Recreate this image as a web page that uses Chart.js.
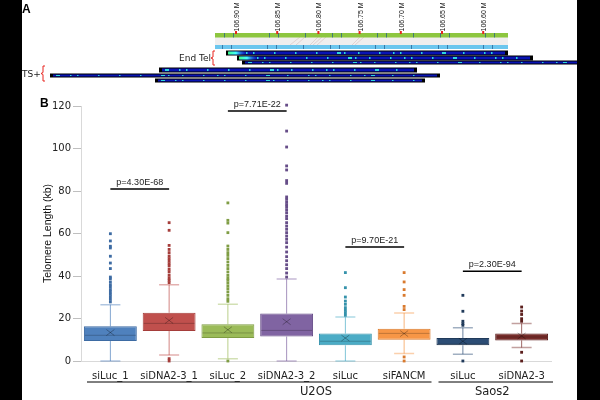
<html>
<head>
<meta charset="utf-8" />
<title>Telomere length box plot</title>
<script src="https://cdn.jsdelivr.net/npm/chart.js@4.4.1/dist/chart.umd.min.js"></script>
<style>
  html, body { margin: 0; padding: 0; background: #000; }
  #wrap { width: 600px; height: 400px; }
</style>
</head>
<body>
<div id="wrap"><canvas id="chart" width="600" height="400"></canvas></div>
<script>
// ---- data (values in kb) ----
const categories = ['siLuc_1', 'siDNA2-3_1', 'siLuc_2', 'siDNA2-3_2', 'siLuc', 'siFANCM', 'siLuc', 'siDNA2-3'];
const cellLines = ['U2OS', 'Saos2'];
const cellLineSpan = [[0, 5], [6, 7]];
const whiskerLow = [0, 2.8, 1.1, 0, 0, 3.5, 3.2, 6.3];
const q1 = [9.4, 14.1, 10.8, 11.5, 7.4, 10.0, 7.4, 9.7];
const median = [12.1, 17.7, 13.2, 14.4, 9.3, 13.0, 7.9, 11.3];
const q3 = [16.3, 22.7, 17.3, 22.3, 12.9, 15.2, 10.8, 12.9];
const mean = [13.4, 19.1, 14.7, 18.5, 10.8, 12.9, 9.3, 11.8];
const whiskerHigh = [26.5, 35.9, 26.7, 38.6, 20.7, 22.6, 15.7, 17.7];
const outliers = [
  [27.8, 29, 30.3, 31.4, 32.5, 33.6, 34.8, 35.9, 37.2, 38.7, 39.5, 43.5, 46.1, 49.3, 53.2, 54, 56.5, 59.9],
  [0, 1.1, 36.9, 38, 39, 40.3, 41.9, 43.1, 44.7, 45.8, 47, 48.2, 49.4, 51, 52.5, 54.4, 61.5, 65.1],
  [0, 28.1, 29.3, 30.9, 32.5, 34, 35.3, 36.7, 38, 39, 40.3, 41.9, 43.5, 45, 46.6, 48.2, 49.7, 51, 52.5, 54.1, 60.4, 64.9, 66.2, 74.4],
  [39.5, 41.4, 43.5, 45.3, 47.2, 49.1, 51.3, 53.6, 55.7, 57.3, 58.8, 60.4, 62, 63.5, 65.1, 67, 68.2, 69.8, 71.2, 72.5, 73.6, 74.8, 76.1, 77.2, 83.6, 84.9, 89.9, 91.8, 100.7, 108.2, 120.4],
  [21.5, 22.7, 23.8, 25.1, 26.7, 28.2, 30.1, 34.5, 41.6],
  [0, 1.9, 24.2, 25.7, 30.9, 33.6, 37.2, 41.6],
  [0, 16.8, 17.6, 18.7, 23.4, 30.9],
  [0, 4.1, 18.7, 19.9, 21.9, 23.5, 25.4]
];
const pTexts = ['p=4.30E-68', 'p=7.71E-22', 'p=9.70E-21', 'p=2.30E-94'];
const pPairs = [[0, 1], [2, 3], [4, 5], [6, 7]];
const pLevels = [81, 117.6, 53.6, 42.2];
const yMin = 0, yMax = 120, yStep = 20;

// panel A coordinate labels
const coordLabels = ['106.90 M', '106.85 M', '106.80 M', '106.75 M', '106.70 M', '106.65 M', '106.60 M'];

const fills = ['#4f81bd', '#c0504d', '#9bbb59', '#8064a2', '#4bacc6', '#f79646', '#2c4d75', '#772c2a'];
const borders = ['#3d6ba3', '#a53d3a', '#7f9d44', '#664d88', '#3592ab', '#d97a2e', '#203a5a', '#5c1f1d'];

function rgba(hex, a) {
  const n = parseInt(hex.slice(1), 16);
  return 'rgba(' + (n >> 16) + ',' + ((n >> 8) & 255) + ',' + (n & 255) + ',' + a + ')';
}

const outlierPoints = [];
outliers.forEach((list, i) => list.forEach(v => outlierPoints.push({x: i, y: v})));

// rough sketch of the genome track image in panel A
function drawTrack(c, x0, x1, y, h, glow) {
  c.fillStyle = '#000';
  c.fillRect(x0, y - 0.5, x1 - x0, h + 1);
  c.fillStyle = '#0a14b4';
  c.fillRect(x0 + 3, y + 0.5, x1 - x0 - 6, h - 1);
  c.fillStyle = '#2bd6e0';
  for (let x = x0 + 6, k = 0; x < x1 - 6; x += 7, k++) {
    if (k % 3 === 0 || k % 7 === 2) c.fillRect(x, y + 1, k % 5 === 0 ? 4 : 1.5, h - 2);
  }
  if (glow) {
    const g = c.createLinearGradient(x0, 0, x0 + 20, 0);
    g.addColorStop(0, '#3bff6a');
    g.addColorStop(0.5, '#44ffff');
    g.addColorStop(1, 'rgba(40,120,255,0)');
    c.fillStyle = g;
    c.fillRect(x0 + 2, y + 0.5, 20, h - 1);
  }
}

function bracket(c, x, y0, y1) {
  c.strokeStyle = '#e8251f';
  c.lineWidth = 1;
  c.beginPath();
  c.moveTo(x + 3, y0);
  c.lineTo(x + 1, y0);
  c.lineTo(x + 1, (y0 + y1) / 2 - 1);
  c.lineTo(x - 1, (y0 + y1) / 2);
  c.lineTo(x + 1, (y0 + y1) / 2 + 1);
  c.lineTo(x + 1, y1);
  c.lineTo(x + 3, y1);
  c.stroke();
}

const panelA = {
  id: 'panelA',
  beforeDraw(chart) {
    const c = chart.ctx;
    c.save();
    c.fillStyle = '#fff';
    c.fillRect(0, 0, 600, 400);

    c.fillStyle = '#000';
    c.font = 'bold 12px "Liberation Sans"';
    c.fillText('A', 22, 13);
    c.fillText('B', 40, 107);

    // coordinate ruler
    c.font = '7px "Liberation Sans"';
    coordLabels.forEach((t, i) => {
      const x = 236 + i * 41.2;
      c.save();
      c.translate(x + 3, 31.5);
      c.rotate(-Math.PI / 2);
      c.fillStyle = '#111';
      c.fillText(t, 0, 0);
      c.restore();
    });
    c.fillStyle = '#f0eeee';
    c.fillRect(215, 37, 293, 8);
    c.strokeStyle = 'rgba(200,160,160,0.6)';
    c.lineWidth = 0.6;
    [[290, 300], [296, 305], [310, 318], [313, 322], [317, 326], [352, 360], [355, 364]].forEach(p => {
      c.beginPath(); c.moveTo(p[1], 37); c.lineTo(p[0], 45); c.stroke();
    });
    c.fillStyle = '#8dc63f';
    c.fillRect(215, 33, 293, 4.5);
    c.fillStyle = '#6bc6ee';
    c.fillRect(215, 45, 293, 4);
    c.fillStyle = 'rgba(30,90,140,0.7)';
    for (let x = 222, k = 0; x < 505; x += 9, k++) {
      if (k % 4 === 1 || k % 6 === 0) { c.fillRect(x, 45, 1, 4); c.fillRect(x + 2, 33, 1, 4.5); }
    }
    c.fillStyle = '#e8251f';
    coordLabels.forEach((t, i) => c.fillRect(236 + i * 41.2 - 1, 31, 2, 3));

    drawTrack(c, 226, 508, 51, 4, true);
    drawTrack(c, 237, 533, 56, 4, true);
    drawTrack(c, 242, 590, 61, 3, false);
    drawTrack(c, 159, 417, 68, 4, false);
    drawTrack(c, 50, 440, 74, 3, false);
    drawTrack(c, 155, 425, 79, 3, false);

    c.fillStyle = '#222';
    c.font = '9px "DejaVu Sans"';
    c.fillText('End Tel', 179, 61);
    c.fillText('TS+', 22, 77);
    bracket(c, 212, 51, 65);
    bracket(c, 42, 66, 81);
    c.restore();
  },
  afterDraw(chart) {
    const c = chart.ctx;
    c.save();
    c.fillStyle = '#000';
    c.fillRect(0, 0, 22, 400);
    c.fillRect(577, 0, 23, 400);
    c.restore();
  }
};

// whiskers, caps, medians, means and annotations of panel B
const boxParts = {
  id: 'boxParts',
  beforeDatasetsDraw(chart) {
    const c = chart.ctx, x = chart.scales.x, y = chart.scales.y;
    c.save();
    categories.forEach((name, i) => {
      const cx = x.getPixelForValue(i);
      const lo = y.getPixelForValue(whiskerLow[i]), hi = y.getPixelForValue(whiskerHigh[i]);
      c.strokeStyle = rgba(fills[i], 0.7);
      c.lineWidth = 1;
      c.beginPath();
      c.moveTo(cx, lo); c.lineTo(cx, y.getPixelForValue(q1[i]));
      c.moveTo(cx, y.getPixelForValue(q3[i])); c.lineTo(cx, hi);
      c.stroke();
      c.strokeStyle = rgba(fills[i], 0.45);
      c.lineWidth = 1.5;
      c.beginPath();
      c.moveTo(cx - 10, lo); c.lineTo(cx + 10, lo);
      c.moveTo(cx - 10, hi); c.lineTo(cx + 10, hi);
      c.stroke();
    });
    c.restore();
  },
  afterDatasetsDraw(chart) {
    const c = chart.ctx, x = chart.scales.x, y = chart.scales.y;
    const half = (x.getPixelForValue(1) - x.getPixelForValue(0)) * 0.45;
    c.save();
    categories.forEach((name, i) => {
      const cx = x.getPixelForValue(i);
      const my = y.getPixelForValue(median[i]);
      c.strokeStyle = 'rgba(0,0,0,0.22)';
      c.lineWidth = 1;
      c.beginPath(); c.moveTo(cx - half + 1, my); c.lineTo(cx + half - 1, my); c.stroke();
      const ay = y.getPixelForValue(mean[i]);
      c.strokeStyle = 'rgba(0,0,0,0.3)';
      c.beginPath();
      c.moveTo(cx - 4, ay - 3); c.lineTo(cx + 4, ay + 3);
      c.moveTo(cx - 4, ay + 3); c.lineTo(cx + 4, ay - 3);
      c.stroke();
    });

    // p-value brackets
    c.font = '9px "Liberation Sans"';
    c.textAlign = 'center';
    c.textBaseline = 'alphabetic';
    pTexts.forEach((t, k) => {
      const xa = x.getPixelForValue(pPairs[k][0]), xb = x.getPixelForValue(pPairs[k][1]);
      const ly = y.getPixelForValue(pLevels[k]);
      c.strokeStyle = '#000';
      c.lineWidth = 1.5;
      c.beginPath(); c.moveTo(xa, ly); c.lineTo(xb, ly); c.stroke();
      c.fillStyle = '#222';
      c.fillText(t, (xa + xb) / 2, ly - 4);
    });

    // cell line groups under the axis
    c.font = '11.5px "DejaVu Sans"';
    c.textBaseline = 'middle';
    cellLines.forEach((t, k) => {
      const a = cellLineSpan[k][0], b = cellLineSpan[k][1];
      const x0 = x.getPixelForValue(a - 0.5) + (k === 0 ? 6 : 5);
      const x1 = x.getPixelForValue(b + 0.5) + (k === 0 ? -2 : 2);
      c.strokeStyle = '#000';
      c.lineWidth = 1;
      c.beginPath(); c.moveTo(x0, 382); c.lineTo(x1, 382); c.stroke();
      c.fillStyle = '#222';
      const mid = k === 0 ? (a + b) / 2 + 1 : (a + b) / 2;
      c.fillText(t, x.getPixelForValue(mid), 392);
    });
    c.restore();
  }
};

new Chart(document.getElementById('chart'), {
  type: 'bar',
  data: {
    datasets: [{
      type: 'scatter',
      data: outlierPoints,
      pointStyle: 'rect',
      pointRadius: 2,
      pointBorderWidth: 0,
      pointBackgroundColor: ctx => borders[ctx.raw ? ctx.raw.x : 0],
      clip: false
    }, {
      type: 'bar',
      data: categories.map((c, i) => ({x: i, y: [q1[i], q3[i]]})),
      backgroundColor: fills,
      borderColor: borders,
      borderWidth: 1,
      borderSkipped: false,
      grouped: false,
      barPercentage: 0.9,
      categoryPercentage: 1
    }]
  },
  options: {
    responsive: false,
    animation: false,
    layout: {padding: {left: 38, top: 106, right: 49, bottom: 0}},
    plugins: {legend: {display: false}, tooltip: {enabled: false}},
    scales: {
      x: {
        type: 'linear',
        min: -0.5,
        max: 7.5,
        offset: false,
        grid: {display: false, drawTicks: false, offset: false},
        border: {color: '#d9d9d9'},
        afterBuildTicks(s) { s.ticks = categories.map((c, i) => ({value: i})); },
        ticks: {
          callback: v => categories[v],
          color: '#222', font: {family: 'DejaVu Sans', size: 10}, padding: 9, maxRotation: 0, autoSkip: false
        },
        afterFit(s) { s.height = 39; }
      },
      y: {
        min: yMin,
        max: yMax,
        ticks: {stepSize: yStep, color: '#222', font: {family: 'DejaVu Sans', size: 10}, padding: 2},
        grid: {drawOnChartArea: false, tickLength: 8, color: '#bfbfbf'},
        border: {color: '#d9d9d9'},
        title: {display: true, text: 'Telomere Length (kb)', color: '#111', font: {family: 'Liberation Sans', size: 10.5}, padding: {top: 4, bottom: 0}},
        afterFit(s) { s.width = 43; }
      }
    }
  },
  plugins: [panelA, boxParts]
});
</script>
</body>
</html>
